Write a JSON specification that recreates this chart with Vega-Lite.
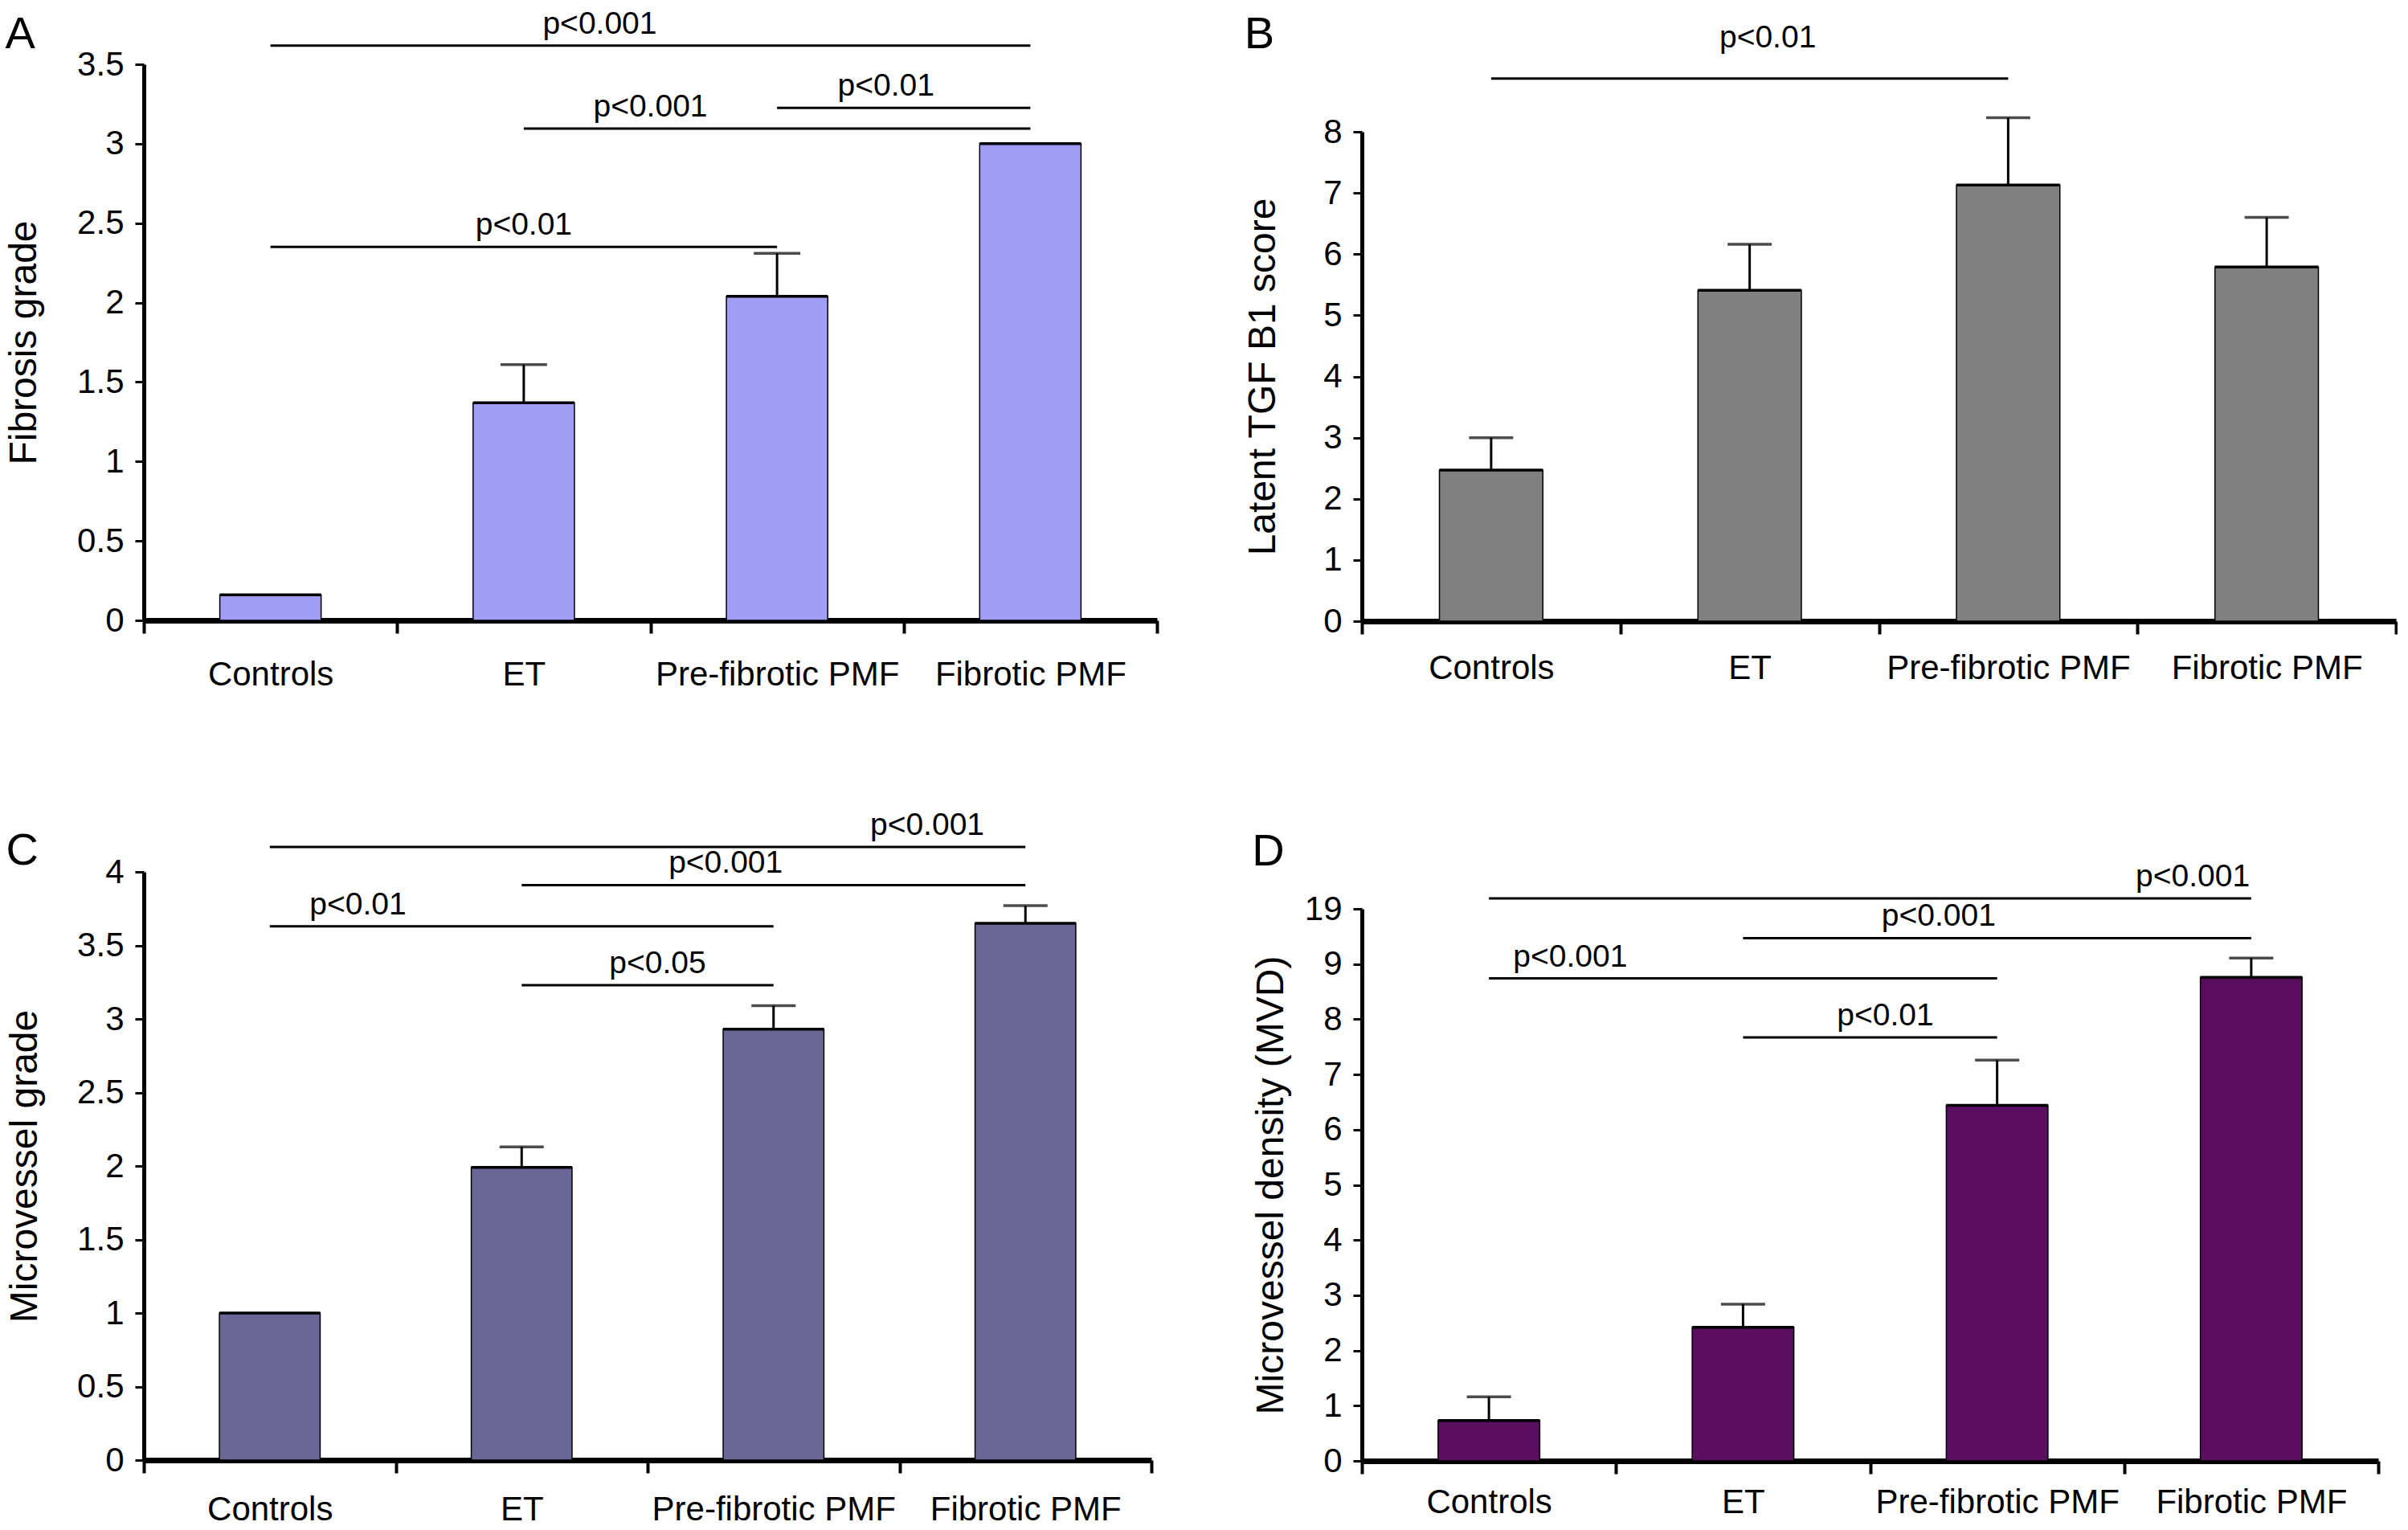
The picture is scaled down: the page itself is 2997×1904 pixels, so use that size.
{
  "$schema": "https://vega.github.io/schema/vega-lite/v6.json",
  "background": "white",
  "padding": {"left": 6, "top": 10, "right": 0, "bottom": 0},
  "config": {
    "view": {"stroke": null},
    "font": "Liberation Sans",
    "axis": {"labelFont": "Liberation Sans", "titleFont": "Liberation Sans", "labelColor": "black", "titleColor": "black", "domainColor": "black", "tickColor": "black", "grid": false, "titleFontWeight": "normal"},
    "title": {"font": "Liberation Sans", "fontWeight": "normal", "color": "black", "fontSize": 56, "anchor": "start", "frame": "bounds", "offset": 0}
  },
  "datasets": {
    "bars": [
      {"panel": "A", "group": "Controls", "value": 0.16, "upper": null},
      {"panel": "A", "group": "ET", "value": 1.37, "upper": 1.61},
      {"panel": "A", "group": "Pre-fibrotic PMF", "value": 2.04, "upper": 2.31},
      {"panel": "A", "group": "Fibrotic PMF", "value": 3.0, "upper": null},
      {"panel": "B", "group": "Controls", "value": 2.47, "upper": 3.0},
      {"panel": "B", "group": "ET", "value": 5.41, "upper": 6.16},
      {"panel": "B", "group": "Pre-fibrotic PMF", "value": 7.13, "upper": 8.23},
      {"panel": "B", "group": "Fibrotic PMF", "value": 5.79, "upper": 6.6},
      {"panel": "C", "group": "Controls", "value": 1.0, "upper": null},
      {"panel": "C", "group": "ET", "value": 1.99, "upper": 2.13},
      {"panel": "C", "group": "Pre-fibrotic PMF", "value": 2.93, "upper": 3.09},
      {"panel": "C", "group": "Fibrotic PMF", "value": 3.65, "upper": 3.77},
      {"panel": "D", "group": "Controls", "value": 0.73, "upper": 1.16},
      {"panel": "D", "group": "ET", "value": 2.42, "upper": 2.84},
      {"panel": "D", "group": "Pre-fibrotic PMF", "value": 6.44, "upper": 7.26},
      {"panel": "D", "group": "Fibrotic PMF", "value": 8.76, "upper": 9.11}
    ],
    "sig": [
      {"id": "A1", "panel": "A", "from": "Controls", "to": "Fibrotic PMF", "level": 3.617, "label": "p<0.001", "at": "ET"},
      {"id": "A2", "panel": "A", "from": "ET", "to": "Fibrotic PMF", "level": 3.096, "label": "p<0.001", "at": "Pre-fibrotic PMF"},
      {"id": "A3", "panel": "A", "from": "Pre-fibrotic PMF", "to": "Fibrotic PMF", "level": 3.225, "label": "p<0.01", "at": "Pre-fibrotic PMF"},
      {"id": "A4", "panel": "A", "from": "Controls", "to": "Pre-fibrotic PMF", "level": 2.351, "label": "p<0.01", "at": "ET"},
      {"id": "B1", "panel": "B", "from": "Controls", "to": "Pre-fibrotic PMF", "level": 8.87, "label": "p<0.01", "at": "ET"},
      {"id": "C1", "panel": "C", "from": "Controls", "to": "Fibrotic PMF", "level": 4.17, "label": "p<0.001", "at": "Fibrotic PMF"},
      {"id": "C2", "panel": "C", "from": "ET", "to": "Fibrotic PMF", "level": 3.91, "label": "p<0.001", "at": "Pre-fibrotic PMF"},
      {"id": "C3", "panel": "C", "from": "Controls", "to": "Pre-fibrotic PMF", "level": 3.63, "label": "p<0.01", "at": "Controls"},
      {"id": "C4", "panel": "C", "from": "ET", "to": "Pre-fibrotic PMF", "level": 3.23, "label": "p<0.05", "at": "Pre-fibrotic PMF"},
      {"id": "D1", "panel": "D", "from": "Controls", "to": "Fibrotic PMF", "level": 10.19, "label": "p<0.001", "at": "Fibrotic PMF"},
      {"id": "D2", "panel": "D", "from": "ET", "to": "Fibrotic PMF", "level": 9.47, "label": "p<0.001", "at": "Pre-fibrotic PMF"},
      {"id": "D3", "panel": "D", "from": "Controls", "to": "Pre-fibrotic PMF", "level": 8.74, "label": "p<0.001", "at": "Controls"},
      {"id": "D4", "panel": "D", "from": "ET", "to": "Pre-fibrotic PMF", "level": 7.67, "label": "p<0.01", "at": "Pre-fibrotic PMF"}
    ]
  },
  "vconcat": [
    {
      "hconcat": [
        {
          "width": 1261, "height": 692,
          "title": {"text": "A", "dx": 0, "dy": 65},
          "layer": [
            {"data": {"name": "bars"}, "transform": [{"filter": "datum.panel == 'A'"}],
             "mark": {"type": "bar", "width": {"band": 0.4}, "fill": "#A29EF7", "stroke": "black", "strokeWidth": 1.5},
             "encoding": {
               "x": {"field": "group", "type": "nominal", "scale": {"domain": ["Controls", "ET", "Pre-fibrotic PMF", "Fibrotic PMF"], "paddingInner": 0, "paddingOuter": 0},
                     "axis": {"title": null, "tickBand": "extent", "tickSize": 16, "tickWidth": 4, "domainWidth": 7, "labelPadding": 31, "labelFontSize": 42, "labelAngle": 0, "labelLimit": 1000, "labelOverlap": false}},
               "y": {"field": "value", "type": "quantitative", "scale": {"domain": [0, 3.5], "nice": false},
                     "axis": {"title": "Fibrosis grade", "values": [0, 0.5, 1, 1.5, 2, 2.5, 3, 3.5], "format": "~g", "tickSize": 11, "tickWidth": 3, "domainWidth": 5, "labelPadding": 14, "labelFontSize": 42, "titleFontSize": 48, "titlePadding": 41}}
             }},
            {"data": {"name": "bars"}, "transform": [{"filter": "datum.panel == 'A'"}],
             "mark": {"type": "bar", "width": {"band": 0.4}, "fill": "transparent", "stroke": "black", "strokeWidth": 3.5},
             "encoding": {"x": {"field": "group", "type": "nominal"}, "y": {"field": "value", "type": "quantitative"}, "y2": {"field": "value"}}},
            {"data": {"name": "bars"}, "transform": [{"filter": "datum.panel == 'A' && isValid(datum.upper)"}],
             "mark": {"type": "rule", "color": "black", "strokeWidth": 3},
             "encoding": {"x": {"field": "group", "type": "nominal"}, "y": {"field": "value", "type": "quantitative"}, "y2": {"field": "upper"}}},
            {"data": {"name": "bars"}, "transform": [{"filter": "datum.panel == 'A' && isValid(datum.upper)"}],
             "mark": {"type": "tick", "color": "black", "size": 58, "thickness": 3.5, "orient": "horizontal"},
             "encoding": {"x": {"field": "group", "type": "nominal"}, "y": {"field": "upper", "type": "quantitative"}}},
            {"data": {"name": "sig"}, "transform": [{"filter": "datum.panel == 'A'"}],
             "mark": {"type": "rule", "color": "black", "strokeWidth": 3},
             "encoding": {"x": {"field": "from", "type": "nominal"}, "x2": {"field": "to"}, "y": {"field": "level", "type": "quantitative"}}},
            {"data": {"name": "sig"}, "transform": [{"filter": "datum.id == 'A1'"}],
             "mark": {"type": "text", "fontSize": 39, "dy": -27, "baseline": "middle", "align": "center", "color": "black"},
             "encoding": {"x": {"field": "at", "type": "nominal", "bandPosition": 0.8}, "y": {"field": "level", "type": "quantitative"}, "text": {"field": "label"}}},
            {"data": {"name": "sig"}, "transform": [{"filter": "datum.id == 'A2'"}],
             "mark": {"type": "text", "fontSize": 39, "dy": -27, "baseline": "middle", "align": "center", "color": "black"},
             "encoding": {"x": {"field": "at", "type": "nominal", "bandPosition": 0.0}, "y": {"field": "level", "type": "quantitative"}, "text": {"field": "label"}}},
            {"data": {"name": "sig"}, "transform": [{"filter": "datum.id == 'A3'"}],
             "mark": {"type": "text", "fontSize": 39, "dy": -27, "baseline": "middle", "align": "center", "color": "black"},
             "encoding": {"x": {"field": "at", "type": "nominal", "bandPosition": 0.93}, "y": {"field": "level", "type": "quantitative"}, "text": {"field": "label"}}},
            {"data": {"name": "sig"}, "transform": [{"filter": "datum.id == 'A4'"}],
             "mark": {"type": "text", "fontSize": 39, "dy": -27, "baseline": "middle", "align": "center", "color": "black"},
             "encoding": {"x": {"field": "at", "type": "nominal", "bandPosition": 0.5}, "y": {"field": "level", "type": "quantitative"}, "text": {"field": "label"}}}
          ]
        },
        {
          "width": 1287, "height": 693,
          "title": {"text": "B", "dx": 0, "dy": 48},
          "layer": [
            {"data": {"name": "bars"}, "transform": [{"filter": "datum.panel == 'B'"}],
             "mark": {"type": "bar", "width": {"band": 0.4}, "fill": "#808080", "stroke": "black", "strokeWidth": 1.5},
             "encoding": {
               "x": {"field": "group", "type": "nominal", "scale": {"domain": ["Controls", "ET", "Pre-fibrotic PMF", "Fibrotic PMF"], "paddingInner": 0, "paddingOuter": 0},
                     "axis": {"title": null, "tickBand": "extent", "tickSize": 16, "tickWidth": 4, "domainWidth": 7, "labelPadding": 22, "labelFontSize": 42, "labelAngle": 0, "labelLimit": 1000, "labelOverlap": false}},
               "y": {"field": "value", "type": "quantitative", "scale": {"domain": [0, 8], "nice": false, "range": [693, 84]},
                     "axis": {"title": "Latent TGF B1 score", "values": [0, 1, 2, 3, 4, 5, 6, 7, 8], "format": "~g", "tickSize": 11, "tickWidth": 3, "domainWidth": 5, "labelPadding": 14, "labelFontSize": 42, "titleFontSize": 48, "titlePadding": 50}}
             }},
            {"data": {"name": "bars"}, "transform": [{"filter": "datum.panel == 'B'"}],
             "mark": {"type": "bar", "width": {"band": 0.4}, "fill": "transparent", "stroke": "black", "strokeWidth": 3.5},
             "encoding": {"x": {"field": "group", "type": "nominal"}, "y": {"field": "value", "type": "quantitative"}, "y2": {"field": "value"}}},
            {"data": {"name": "bars"}, "transform": [{"filter": "datum.panel == 'B' && isValid(datum.upper)"}],
             "mark": {"type": "rule", "color": "black", "strokeWidth": 3},
             "encoding": {"x": {"field": "group", "type": "nominal"}, "y": {"field": "value", "type": "quantitative"}, "y2": {"field": "upper"}}},
            {"data": {"name": "bars"}, "transform": [{"filter": "datum.panel == 'B' && isValid(datum.upper)"}],
             "mark": {"type": "tick", "color": "black", "size": 55, "thickness": 3.5, "orient": "horizontal"},
             "encoding": {"x": {"field": "group", "type": "nominal"}, "y": {"field": "upper", "type": "quantitative"}}},
            {"data": {"name": "sig"}, "transform": [{"filter": "datum.panel == 'B'"}],
             "mark": {"type": "rule", "color": "black", "strokeWidth": 3},
             "encoding": {"x": {"field": "from", "type": "nominal"}, "x2": {"field": "to"}, "y": {"field": "level", "type": "quantitative"}}},
            {"data": {"name": "sig"}, "transform": [{"filter": "datum.id == 'B1'"}],
             "mark": {"type": "text", "fontSize": 39, "dy": -51, "baseline": "middle", "align": "center", "color": "black"},
             "encoding": {"x": {"field": "at", "type": "nominal", "bandPosition": 0.57}, "y": {"field": "level", "type": "quantitative"}, "text": {"field": "label"}}}
          ]
        }
      ],
      "spacing": 106
    },
    {
      "hconcat": [
        {
          "width": 1254, "height": 732,
          "title": {"text": "C", "dx": 0, "dy": 84},
          "layer": [
            {"data": {"name": "bars"}, "transform": [{"filter": "datum.panel == 'C'"}],
             "mark": {"type": "bar", "width": {"band": 0.4}, "fill": "#6A6797", "stroke": "black", "strokeWidth": 1.5},
             "encoding": {
               "x": {"field": "group", "type": "nominal", "scale": {"domain": ["Controls", "ET", "Pre-fibrotic PMF", "Fibrotic PMF"], "paddingInner": 0, "paddingOuter": 0},
                     "axis": {"title": null, "tickBand": "extent", "tickSize": 16, "tickWidth": 4, "domainWidth": 7, "labelPadding": 25, "labelFontSize": 42, "labelAngle": 0, "labelLimit": 1000, "labelOverlap": false}},
               "y": {"field": "value", "type": "quantitative", "scale": {"domain": [0, 4], "nice": false},
                     "axis": {"title": "Microvessel grade", "values": [0, 0.5, 1, 1.5, 2, 2.5, 3, 3.5, 4], "format": "~g", "tickSize": 11, "tickWidth": 3, "domainWidth": 5, "labelPadding": 14, "labelFontSize": 42, "titleFontSize": 48, "titlePadding": 40}}
             }},
            {"data": {"name": "bars"}, "transform": [{"filter": "datum.panel == 'C'"}],
             "mark": {"type": "bar", "width": {"band": 0.4}, "fill": "transparent", "stroke": "black", "strokeWidth": 3.5},
             "encoding": {"x": {"field": "group", "type": "nominal"}, "y": {"field": "value", "type": "quantitative"}, "y2": {"field": "value"}}},
            {"data": {"name": "bars"}, "transform": [{"filter": "datum.panel == 'C' && isValid(datum.upper)"}],
             "mark": {"type": "rule", "color": "black", "strokeWidth": 3},
             "encoding": {"x": {"field": "group", "type": "nominal"}, "y": {"field": "value", "type": "quantitative"}, "y2": {"field": "upper"}}},
            {"data": {"name": "bars"}, "transform": [{"filter": "datum.panel == 'C' && isValid(datum.upper)"}],
             "mark": {"type": "tick", "color": "black", "size": 55, "thickness": 3.5, "orient": "horizontal"},
             "encoding": {"x": {"field": "group", "type": "nominal"}, "y": {"field": "upper", "type": "quantitative"}}},
            {"data": {"name": "sig"}, "transform": [{"filter": "datum.panel == 'C'"}],
             "mark": {"type": "rule", "color": "black", "strokeWidth": 3},
             "encoding": {"x": {"field": "from", "type": "nominal"}, "x2": {"field": "to"}, "y": {"field": "level", "type": "quantitative"}}},
            {"data": {"name": "sig"}, "transform": [{"filter": "datum.id == 'C1'"}],
             "mark": {"type": "text", "fontSize": 39, "dy": -27, "baseline": "middle", "align": "center", "color": "black"},
             "encoding": {"x": {"field": "at", "type": "nominal", "bandPosition": 0.11}, "y": {"field": "level", "type": "quantitative"}, "text": {"field": "label"}}},
            {"data": {"name": "sig"}, "transform": [{"filter": "datum.id == 'C2'"}],
             "mark": {"type": "text", "fontSize": 39, "dy": -27, "baseline": "middle", "align": "center", "color": "black"},
             "encoding": {"x": {"field": "at", "type": "nominal", "bandPosition": 0.31}, "y": {"field": "level", "type": "quantitative"}, "text": {"field": "label"}}},
            {"data": {"name": "sig"}, "transform": [{"filter": "datum.id == 'C3'"}],
             "mark": {"type": "text", "fontSize": 39, "dy": -27, "baseline": "middle", "align": "center", "color": "black"},
             "encoding": {"x": {"field": "at", "type": "nominal", "bandPosition": 0.85}, "y": {"field": "level", "type": "quantitative"}, "text": {"field": "label"}}},
            {"data": {"name": "sig"}, "transform": [{"filter": "datum.id == 'C4'"}],
             "mark": {"type": "text", "fontSize": 39, "dy": -27, "baseline": "middle", "align": "center", "color": "black"},
             "encoding": {"x": {"field": "at", "type": "nominal", "bandPosition": 0.04}, "y": {"field": "level", "type": "quantitative"}, "text": {"field": "label"}}}
          ]
        },
        {
          "width": 1265, "height": 733,
          "title": {"text": "D", "dx": 0, "dy": 21},
          "layer": [
            {"data": {"name": "bars"}, "transform": [{"filter": "datum.panel == 'D'"}],
             "mark": {"type": "bar", "width": {"band": 0.4}, "fill": "#5A0E5F", "stroke": "black", "strokeWidth": 1.5},
             "encoding": {
               "x": {"field": "group", "type": "nominal", "scale": {"domain": ["Controls", "ET", "Pre-fibrotic PMF", "Fibrotic PMF"], "paddingInner": 0, "paddingOuter": 0},
                     "axis": {"title": null, "tickBand": "extent", "tickSize": 16, "tickWidth": 4, "domainWidth": 7, "labelPadding": 15, "labelFontSize": 42, "labelAngle": 0, "labelLimit": 1000, "labelOverlap": false}},
               "y": {"field": "value", "type": "quantitative", "scale": {"domain": [0, 10], "nice": false, "range": [733, 46]},
                     "axis": {"title": "Microvessel density (MVD)", "values": [0, 1, 2, 3, 4, 5, 6, 7, 8, 9, 10], "labelExpr": "datum.value == 10 ? '19' : datum.label", "format": "~g", "tickSize": 11, "tickWidth": 3, "domainWidth": 5, "labelPadding": 14, "labelFontSize": 42, "titleFontSize": 48, "titlePadding": 17}}
             }},
            {"data": {"name": "bars"}, "transform": [{"filter": "datum.panel == 'D'"}],
             "mark": {"type": "bar", "width": {"band": 0.4}, "fill": "transparent", "stroke": "black", "strokeWidth": 3.5},
             "encoding": {"x": {"field": "group", "type": "nominal"}, "y": {"field": "value", "type": "quantitative"}, "y2": {"field": "value"}}},
            {"data": {"name": "bars"}, "transform": [{"filter": "datum.panel == 'D' && isValid(datum.upper)"}],
             "mark": {"type": "rule", "color": "black", "strokeWidth": 3},
             "encoding": {"x": {"field": "group", "type": "nominal"}, "y": {"field": "value", "type": "quantitative"}, "y2": {"field": "upper"}}},
            {"data": {"name": "bars"}, "transform": [{"filter": "datum.panel == 'D' && isValid(datum.upper)"}],
             "mark": {"type": "tick", "color": "black", "size": 55, "thickness": 3.5, "orient": "horizontal"},
             "encoding": {"x": {"field": "group", "type": "nominal"}, "y": {"field": "upper", "type": "quantitative"}}},
            {"data": {"name": "sig"}, "transform": [{"filter": "datum.panel == 'D'"}],
             "mark": {"type": "rule", "color": "black", "strokeWidth": 3},
             "encoding": {"x": {"field": "from", "type": "nominal"}, "x2": {"field": "to"}, "y": {"field": "level", "type": "quantitative"}}},
            {"data": {"name": "sig"}, "transform": [{"filter": "datum.id == 'D1' || datum.id == 'D2'"}],
             "mark": {"type": "text", "fontSize": 39, "dy": -27, "baseline": "middle", "align": "center", "color": "black"},
             "encoding": {"x": {"field": "at", "type": "nominal", "bandPosition": 0.27}, "y": {"field": "level", "type": "quantitative"}, "text": {"field": "label"}}},
            {"data": {"name": "sig"}, "transform": [{"filter": "datum.id == 'D3'"}],
             "mark": {"type": "text", "fontSize": 39, "dy": -27, "baseline": "middle", "align": "center", "color": "black"},
             "encoding": {"x": {"field": "at", "type": "nominal", "bandPosition": 0.82}, "y": {"field": "level", "type": "quantitative"}, "text": {"field": "label"}}},
            {"data": {"name": "sig"}, "transform": [{"filter": "datum.id == 'D4'"}],
             "mark": {"type": "text", "fontSize": 39, "dy": -27, "baseline": "middle", "align": "center", "color": "black"},
             "encoding": {"x": {"field": "at", "type": "nominal", "bandPosition": 0.06}, "y": {"field": "level", "type": "quantitative"}, "text": {"field": "label"}}}
          ]
        }
      ],
      "spacing": 123
    }
  ],
  "spacing": 147
}
